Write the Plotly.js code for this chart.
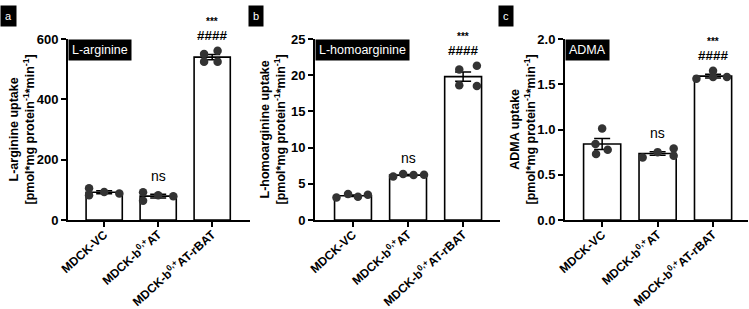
<!DOCTYPE html>
<html>
<head>
<meta charset="utf-8">
<script src="https://cdn.plot.ly/plotly-3.0.1.min.js"></script>
<style>html,body{margin:0;padding:0;background:#fff;}#chart{width:749px;height:309px;}</style>
</head>
<body>
<div id="chart"></div>
<script>
// ---------- data ----------
const categories = ['MDCK-VC', 'MDCK-b<sup>0,+</sup>AT', 'MDCK-b<sup>0,+</sup>AT-rBAT'];

const argMeans = [92, 79, 540];
const argSem = [5, 6, 9];
const argPoints = [[105, 82, 93, 88], [92, 64, 82, 79], [550, 561, 525, 525]];

const homoMeans = [3.35, 6.2, 19.8];
const homoSem = [0.12, 0.08, 0.65];
const homoPoints = [[3.1, 3.6, 3.2, 3.5], [6.0, 6.35, 6.2, 6.25], [20.8, 21.3, 18.6, 18.5]];

const admaMeans = [0.84, 0.735, 1.59];
const admaSem = [0.06, 0.02, 0.02];
const admaPoints = [[1.01, 0.84, 0.775, 0.73], [0.69, 0.75, 0.79, 0.71], [1.56, 1.65, 1.58, 1.58]];

const sigVsVC = ['', 'ns', '***'];
const sigVsAT = ['', '', '####'];

const panelLetters = ['a', 'b', 'c'];
const analyteNames = ['L-arginine', 'L-homoarginine', 'ADMA'];
const yTitles = [
  'L-arginine uptake<br>[pmol*mg protein<sup>-1</sup>*min<sup>-1</sup>]',
  'L-homoarginine uptake<br>[pmol*mg protein<sup>-1</sup>*min<sup>-1</sup>]',
  'ADMA uptake<br>[pmol*mg protein<sup>-1</sup>*min<sup>-1</sup>]'
];
const yRanges = [[0, 600], [0, 25], [0, 2]];
const yDticks = [200, 5, 0.5];
const yFormats = ['', '', '.1f'];

// ---------- style / layout constants ----------
const W = 749;
const jitter = [
  [[-0.28, -0.28, 0, 0.28], [-0.28, -0.28, 0, 0.28], [-0.15, 0.1, -0.15, 0.1]],
  [[-0.3, -0.09, 0.09, 0.27], [-0.27, -0.09, 0.1, 0.29], [-0.07, 0.25, -0.07, 0.25]],
  [[0, -0.12, 0.1, -0.11], [-0.27, 0, 0.29, 0.29], [-0.3, 0, 0, 0.25]]
];
const domainsPx = [[68, 250], [315, 500], [565, 748]];
const xRanges = [[-0.67, 2.7], [-0.69, 2.67], [-0.67, 2.63]];
const titleXpx = [21, 272, 522];
const letterXpx = [0, 248, 498];
const FONT = 'Liberation Sans, Arial, Helvetica, sans-serif';
const BOLD = 700;

const panels = [
  {means: argMeans, sem: argSem, pts: argPoints},
  {means: homoMeans, sem: homoSem, pts: homoPoints},
  {means: admaMeans, sem: admaSem, pts: admaPoints}
];

const traces = [];
const annotations = [];
const layout = {
  width: 749, height: 309,
  margin: {l: 0, r: 0, t: 39, b: 89},
  paper_bgcolor: '#fff', plot_bgcolor: '#fff',
  showlegend: false,
  font: {family: FONT, color: '#000'},
  annotations: annotations
};

panels.forEach((p, k) => {
  const sfx = k === 0 ? '' : String(k + 1);
  const xa = 'x' + sfx, ya = 'y' + sfx;
  const idx = [0, 1, 2];
  traces.push({
    type: 'bar', x: idx, y: p.means, xaxis: xa, yaxis: ya,
    width: 0.67,
    marker: {color: '#fff', line: {color: '#000', width: 1.6}},
    error_y: {type: 'data', array: p.sem, visible: true, color: '#000', thickness: 1.5, width: 8},
    hoverinfo: 'skip'
  });
  const px = [], py = [];
  p.pts.forEach((arr, i) => arr.forEach((v, j) => { px.push(i + jitter[k][i][j]); py.push(v); }));
  traces.push({
    type: 'scatter', mode: 'markers', x: px, y: py, xaxis: xa, yaxis: ya,
    marker: {color: '#333333', size: 8.5},
    cliponaxis: false, hoverinfo: 'skip'
  });

  layout['xaxis' + sfx] = {
    domain: [domainsPx[k][0] / W, domainsPx[k][1] / W],
    anchor: ya, range: xRanges[k],
    tickvals: idx, ticktext: categories.map(c => '<b>' + c + '</b>'), tickangle: -42,
    ticks: 'outside', ticklen: 5, tickwidth: 2, tickcolor: '#000',
    ticklabelstandoff: -4,
    showline: true, linewidth: 2, linecolor: '#000',
    showgrid: false, zeroline: false,
    tickfont: {family: FONT, size: 12, weight: BOLD, color: '#000'}
  };
  layout['yaxis' + sfx] = {
    domain: [0, 1], anchor: xa, range: yRanges[k], dtick: yDticks[k], tickformat: yFormats[k],
    ticks: 'outside', ticklen: 5, tickwidth: 2, tickcolor: '#000',
    showline: true, linewidth: 2, linecolor: '#000',
    showgrid: false, zeroline: false,
    tickfont: {family: FONT, size: 13, weight: BOLD, color: '#000'}
  };

  // y-axis title
  annotations.push({xref: 'paper', yref: ya + ' domain', x: titleXpx[k] / W, y: 0.5,
    xanchor: 'center', yanchor: 'middle', textangle: -90, showarrow: false,
    text: '<b>' + yTitles[k] + '</b>',
    font: {family: FONT, size: 12.5, weight: BOLD, color: '#000'}});

  // significance marks
  idx.forEach(i => {
    const top = Math.max.apply(null, p.pts[i]);
    if (sigVsVC[i] === 'ns') {
      annotations.push({xref: xa, yref: ya, x: i, y: top, text: 'ns', showarrow: false,
        yanchor: 'middle', yshift: 16, font: {family: FONT, size: 14, color: '#000'}});
    } else if (sigVsVC[i]) {
      annotations.push({xref: xa, yref: ya, x: i, y: top, text: '<b>' + sigVsVC[i] + '</b>', showarrow: false,
        yanchor: 'middle', yshift: 29, font: {family: FONT, size: 10, weight: BOLD, color: '#000'}});
    }
    if (sigVsAT[i]) {
      annotations.push({xref: xa, yref: ya, x: i, y: top, text: '<b>' + sigVsAT[i] + '</b>', showarrow: false,
        yanchor: 'middle', yshift: 15, font: {family: FONT, size: 13.5, weight: BOLD, color: '#000'}});
    }
  });

  // analyte label box
  annotations.push({xref: xa + ' domain', yref: ya + ' domain', x: 0, y: 1, xanchor: 'left', yanchor: 'top',
    text: analyteNames[k], showarrow: false, bgcolor: '#000', borderpad: 3,
    font: {family: FONT, size: 12.5, color: '#fff'}});

  // panel letter box
  annotations.push({xref: 'paper', yref: 'paper', x: letterXpx[k] / W, y: (220 - 15.5) / 181, xanchor: 'left', yanchor: 'middle',
    text: panelLetters[k], showarrow: false, bgcolor: '#000', borderpad: 4,
    font: {family: FONT, size: 11, color: '#fff'}});
});

Plotly.newPlot('chart', traces, layout, {staticPlot: true, displayModeBar: false});
</script>
</body>
</html>
